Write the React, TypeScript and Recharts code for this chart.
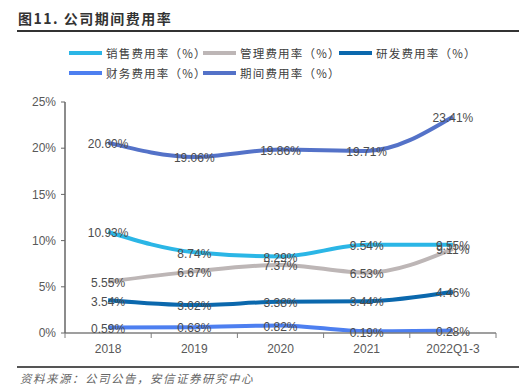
import React from "react";
import { LineChart, Line, XAxis, YAxis, LabelList } from "recharts";

const categories = ["2018", "2019", "2020", "2021", "2022Q1-3"];
const sales = [10.93, 8.74, 8.29, 9.54, 9.55];
const admin = [5.55, 6.67, 7.37, 6.53, 9.11];
const rnd = [3.54, 3.02, 3.38, 3.44, 4.46];
const finance = [0.59, 0.63, 0.82, 0.19, 0.28];
const period = [20.6, 19.06, 19.86, 19.71, 23.41];
const yTicks = [0, 5, 10, 15, 20, 25];

const series = [
  { key: "sales", name: "销售费用率（%）", color: "#2bb6e6", values: sales },
  { key: "admin", name: "管理费用率（%）", color: "#bdb6b6", values: admin },
  { key: "rnd", name: "研发费用率（%）", color: "#0b68ad", values: rnd },
  { key: "finance", name: "财务费用率（%）", color: "#4d7ff0", values: finance },
  { key: "period", name: "期间费用率（%）", color: "#5472c8", values: period },
];

const data = categories.map((c, i) => {
  const row: Record<string, string | number> = { name: c };
  series.forEach((s) => (row[s.key] = s.values[i]));
  return row;
});

const W = 519;
const H = 392;
const X_H = 30;
const M = { top: 102, right: 23, bottom: 59 - X_H, left: 0 };
const Y_W = 65;
const halfBand = (W - Y_W - M.right) / categories.length / 2;
const font = "'Liberation Sans', Arial, sans-serif";
const cjk = "'Noto Sans CJK SC', sans-serif";

function XTick(props: any) {
  const { x, y, payload, index } = props;
  return (
    <g>
      <line x1={x - halfBand} x2={x - halfBand} y1={y} y2={y + 5} stroke="#7f7f7f" />
      {index === categories.length - 1 && (
        <line x1={x + halfBand} x2={x + halfBand} y1={y} y2={y + 5} stroke="#7f7f7f" />
      )}
      <text x={x} y={y + 20} textAnchor="middle" fill="#595959" fontSize={12} fontFamily={font}>
        {payload.value}
      </text>
    </g>
  );
}

export default function App() {
  return (
    <div style={{ position: "absolute", left: 0, top: 0, width: W, height: H, background: "#fff" }}>
      <div
        style={{
          position: "absolute",
          left: 18,
          top: 8,
          fontFamily: cjk,
          fontWeight: 700,
          fontSize: 14,
          color: "#333",
          letterSpacing: 1.5,
        }}
      >
        图11. 公司期间费用率
      </div>
      <div style={{ position: "absolute", left: 17, right: 0, top: 30, height: 2, background: "#333" }} />
      {series.map((s, i) => (
        <div
          key={s.key}
          style={{
            position: "absolute",
            left: [69, 203, 339][i % 3],
            top: i < 3 ? 45 : 65,
            display: "flex",
            alignItems: "center",
            fontFamily: cjk,
            fontSize: 11.5,
            color: "#404040",
            letterSpacing: 1.2,
            whiteSpace: "nowrap",
          }}
        >
          <span style={{ display: "inline-block", width: 33, height: 4, background: s.color, marginRight: 4 }} />
          {s.name}
        </div>
      ))}
      <div style={{ position: "absolute", left: 0, top: 0 }}>
        <LineChart width={W} height={H} data={data} margin={M}>
          <XAxis
            dataKey="name"
            scale="band"
            height={X_H}
            axisLine={{ stroke: "#7f7f7f", strokeWidth: 1.5 }}
            tickLine={false}
            tickSize={0}
            tickMargin={0}
            tick={<XTick />}
            interval={0}
          />
          <YAxis
            width={Y_W}
            domain={[0, 25]}
            ticks={yTicks}
            tickFormatter={(v: number) => `${v}%`}
            axisLine={{ stroke: "#666", strokeWidth: 1.5 }}
            tickLine={{ stroke: "#666" }}
            tickSize={4}
            tickMargin={5}
            tick={{ fill: "#595959", fontSize: 12, fontFamily: font }}
          />
          {series.map((s) => (
            <Line
              key={s.key}
              dataKey={s.key}
              name={s.name}
              type="monotone"
              stroke={s.color}
              strokeWidth={4}
              dot={false}
              activeDot={false}
              isAnimationActive={false}
            >
              <LabelList
                dataKey={s.key}
                position="center"
                formatter={(v: any) => `${Number(v).toFixed(2)}%`}
                fill="#4d4d4d"
                fontSize={12}
                fontFamily={font}
                dy={1}
              />
            </Line>
          ))}
        </LineChart>
      </div>
      <div style={{ position: "absolute", left: 17, right: 0, top: 366, height: 2, background: "#555" }} />
      <div
        style={{
          position: "absolute",
          left: 20,
          top: 370,
          fontFamily: cjk,
          fontStyle: "italic",
          fontSize: 11.5,
          color: "#666",
          letterSpacing: 1.5,
        }}
      >
        资料来源：公司公告，安信证券研究中心
      </div>
    </div>
  );
}
